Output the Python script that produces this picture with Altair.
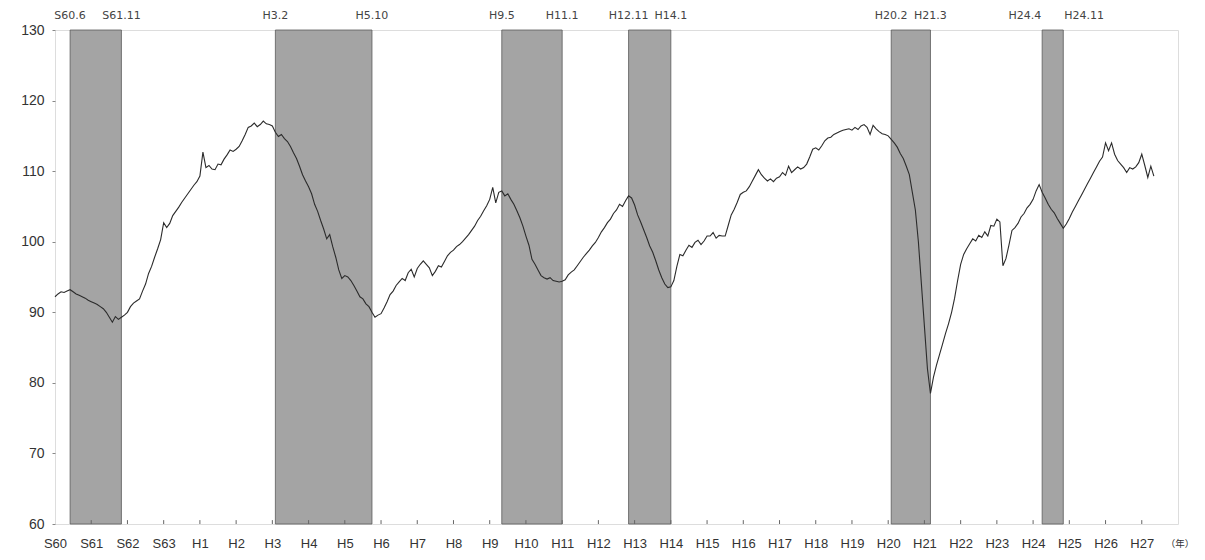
import altair as alt
import pandas as pd

# ---- data ----
year_labels = ["S60", "S61", "S62", "S63", "H1", "H2", "H3", "H4", "H5", "H6",
               "H7", "H8", "H9", "H10", "H11", "H12", "H13", "H14", "H15", "H16",
               "H17", "H18", "H19", "H20", "H21", "H22", "H23", "H24", "H25", "H26", "H27"]
first_year = 1985

# monthly index values, one row per year, starting Jan 1985
v1985 = [92.2, 92.6, 92.9, 92.8, 93.0, 93.2, 92.9, 92.6, 92.4, 92.2, 92.0, 91.7]
v1986 = [91.5, 91.3, 91.1, 90.8, 90.5, 90.0, 89.3, 88.6, 89.4, 89.0, 89.3, 89.6]
v1987 = [90.0, 90.8, 91.3, 91.6, 91.9, 93.0, 94.0, 95.5, 96.5, 97.8, 99.0, 100.3]
v1988 = [102.7, 102.0, 102.6, 103.7, 104.3, 104.9, 105.6, 106.2, 106.8, 107.4, 108.0, 108.5]
v1989 = [109.3, 112.7, 110.5, 110.8, 110.3, 110.2, 111.0, 110.9, 111.7, 112.3, 113.0, 112.8]
v1990 = [113.1, 113.5, 114.3, 115.2, 116.2, 116.4, 116.8, 116.3, 116.6, 117.1, 116.7, 116.6]
v1991 = [116.4, 115.5, 114.9, 115.2, 114.6, 114.2, 113.5, 112.6, 111.8, 110.7, 109.5, 108.6]
v1992 = [107.8, 106.8, 105.3, 104.3, 103.0, 101.8, 100.4, 101.0, 99.3, 97.8, 96.0, 94.8]
v1993 = [95.2, 95.0, 94.5, 93.8, 93.0, 92.2, 91.9, 91.2, 90.8, 90.0, 89.3, 89.6]
v1994 = [89.8, 90.6, 91.5, 92.5, 93.0, 93.8, 94.3, 94.8, 94.5, 95.6, 96.1, 95.0]
v1995 = [96.2, 96.8, 97.3, 96.8, 96.3, 95.2, 95.8, 96.6, 96.4, 97.2, 98.0, 98.5]
v1996 = [98.8, 99.3, 99.6, 100.0, 100.5, 101.0, 101.6, 102.2, 103.0, 103.6, 104.4, 105.1]
v1997 = [106.0, 107.7, 105.5, 107.0, 107.2, 106.5, 106.8, 106.0, 105.3, 104.4, 103.4, 102.2]
v1998 = [100.8, 99.5, 97.5, 96.8, 96.0, 95.2, 94.9, 94.7, 94.9, 94.5, 94.4, 94.3]
v1999 = [94.4, 94.6, 95.3, 95.7, 96.0, 96.6, 97.2, 97.8, 98.3, 98.8, 99.4, 99.9]
v2000 = [100.6, 101.4, 102.0, 102.7, 103.2, 104.0, 104.5, 105.3, 105.0, 105.8, 106.5, 106.2]
v2001 = [105.2, 103.8, 102.8, 101.7, 100.6, 99.4, 98.5, 97.3, 96.0, 94.9, 94.0, 93.5]
v2002 = [93.6, 94.5, 96.5, 98.2, 98.0, 98.8, 99.5, 99.2, 99.9, 100.2, 99.6, 100.1]
v2003 = [100.8, 100.8, 101.3, 100.5, 100.9, 100.8, 100.8, 102.3, 103.8, 104.6, 105.6, 106.7]
v2004 = [107.0, 107.2, 107.8, 108.6, 109.4, 110.2, 109.5, 109.0, 108.6, 108.9, 108.5, 109.0]
v2005 = [109.2, 109.8, 109.4, 110.7, 109.8, 110.2, 110.6, 110.3, 110.5, 111.0, 112.0, 113.1]
v2006 = [113.3, 113.0, 113.6, 114.3, 114.7, 114.8, 115.2, 115.4, 115.6, 115.8, 115.9, 116.0]
v2007 = [115.8, 116.2, 115.9, 116.4, 116.6, 116.2, 115.2, 116.5, 116.0, 115.6, 115.3, 115.2]
v2008 = [115.0, 114.5, 114.0, 113.4, 112.5, 111.8, 110.7, 109.5, 107.0, 104.5, 100.0, 94.0]
v2009 = [88.0, 82.0, 78.5, 80.8, 82.5, 84.0, 85.5, 87.0, 88.4, 90.0, 92.0, 94.5]
v2010 = [96.8, 98.2, 99.0, 99.7, 100.4, 100.1, 100.9, 100.6, 101.4, 100.8, 102.3, 102.2]
v2011 = [103.2, 102.8, 96.6, 97.6, 99.5, 101.6, 102.0, 102.6, 103.5, 104.0, 104.8, 105.3]
v2012 = [106.0, 107.2, 108.1, 107.0, 106.2, 105.3, 104.6, 104.1, 103.3, 102.6, 101.9, 102.5]
v2013 = [103.3, 104.2, 105.0, 105.8, 106.6, 107.4, 108.2, 109.0, 109.8, 110.6, 111.4, 112.0]
v2014 = [114.0, 112.9, 114.0, 112.4, 111.5, 111.0, 110.5, 109.8, 110.5, 110.3, 110.6, 111.2]
v2015 = [112.4, 110.8, 109.1, 110.7, 109.3]

all_years = [v1985, v1986, v1987, v1988, v1989, v1990, v1991, v1992, v1993, v1994,
             v1995, v1996, v1997, v1998, v1999, v2000, v2001, v2002, v2003, v2004,
             v2005, v2006, v2007, v2008, v2009, v2010, v2011, v2012, v2013, v2014, v2015]

# recession periods (year, month) start / end and their labels
rec_start = [(1985, 6), (1991, 2), (1997, 5), (2000, 11), (2008, 2), (2012, 4)]
rec_end = [(1986, 11), (1993, 10), (1999, 1), (2002, 1), (2009, 3), (2012, 11)]
rec_start_labels = ["S60.6", "H3.2", "H9.5", "H12.11", "H20.2", "H24.4"]
rec_end_labels = ["S61.11", "H5.10", "H11.1", "H14.1", "H21.3", "H24.11"]

# ---- tables ----
rows = []
for yi, vals in enumerate(all_years):
    for m, v in enumerate(vals):
        rows.append({"t": first_year + yi + m / 12.0, "v": v})
line_df = pd.DataFrame(rows)


def ym(p):
    return p[0] + (p[1] - 1) / 12.0


rec_df = pd.DataFrame({"s": [ym(p) for p in rec_start], "e": [ym(p) for p in rec_end]})
lab_df = pd.DataFrame({
    "t": [ym(p) for p in rec_start] + [ym(p) for p in rec_end],
    "label": rec_start_labels + rec_end_labels,
})
# the two close 2012 labels are pushed apart
lab_center = lab_df[~lab_df["label"].isin(["H24.4", "H24.11"])]
lab_right = lab_df[lab_df["label"] == "H24.4"]
lab_left = lab_df[lab_df["label"] == "H24.11"]

tick_df = pd.DataFrame({"t": list(range(first_year + 1, first_year + len(year_labels))),
                        "y0": 60, "y1": 60.55})

W, H = 1123, 494
x_dom = [first_year, first_year + len(year_labels)]
xscale = alt.Scale(domain=x_dom, nice=False, zero=False)
yscale = alt.Scale(domain=[60, 130], nice=False, zero=False)

label_arr = "[" + ",".join("'" + s + "'" for s in year_labels) + "]"
x_axis = alt.Axis(values=list(range(first_year, first_year + len(year_labels))),
                  labelExpr=label_arr + "[datum.value - " + str(first_year) + "]",
                  ticks=False, grid=False, domain=False, labelPadding=13,
                  labelFontSize=13, labelColor="#333", labelFont="Liberation Sans",
                  labelOverlap=False, labelBound=False, labelFlush=False, title=None)
y_axis = alt.Axis(values=list(range(60, 131, 10)), grid=False, domain=False,
                  tickSize=3, tickColor="#888", labelPadding=8, labelFontSize=14,
                  labelColor="#333", labelFont="Liberation Sans", labelOverlap=False,
                  labelFlush=False, title=None)


def X(field):
    return alt.X(field, scale=xscale, axis=x_axis)


def Y(field):
    return alt.Y(field, scale=yscale, axis=y_axis)


rects = alt.Chart(rec_df).mark_rect(color="#a4a4a4", stroke="#5a5a5a", strokeWidth=0.8).encode(
    x=X("s:Q"),
    x2="e:Q",
    y=alt.value(0),
    y2=alt.value(H),
)

ticks = alt.Chart(tick_df).mark_rule(color="#666", strokeWidth=1).encode(
    x=X("t:Q"),
    y=Y("y0:Q"),
    y2="y1:Q",
)

line = alt.Chart(line_df).mark_line(color="#2b2b2b", strokeWidth=1.1).encode(
    x=X("t:Q"),
    y=Y("v:Q"),
)


def top_text(df, align, dx):
    return alt.Chart(df).mark_text(fontSize=11, color="#444", font="DejaVu Sans",
                                   baseline="middle", align=align, dx=dx).encode(
        x=X("t:Q"),
        y=alt.value(-14),
        text="label:N",
    )


nen = alt.Chart(pd.DataFrame({"t": [x_dom[1]], "label": ["（年）"]})).mark_text(
    fontSize=9.5, color="#333", font="Noto Sans CJK JP", align="center", baseline="middle", dx=2
).encode(
    x=X("t:Q"),
    y=alt.value(H + 20),
    text="label:N",
)

chart = alt.layer(rects, ticks, line,
                  top_text(lab_center, "center", 0),
                  top_text(lab_right, "right", -1),
                  top_text(lab_left, "left", 1),
                  nen).properties(
    width=W, height=H,
    autosize=alt.AutoSizeParams(type="none"),
    padding={"left": 47, "top": 22, "right": 19, "bottom": 28},
).configure_view(stroke="#8a8a8a", strokeWidth=1.2).configure(background="white")

chart.save("out.html", embed_options={"renderer": "svg", "actions": False})
